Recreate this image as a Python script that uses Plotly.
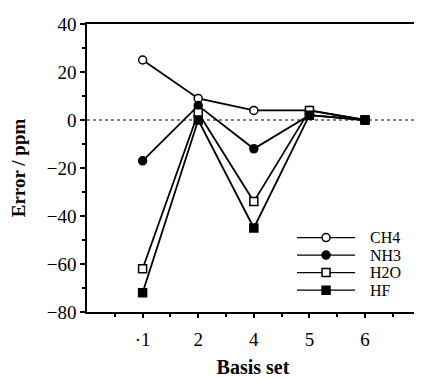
import plotly.graph_objects as go

basis_labels = ["·1", "2", "4", "5", "6"]
basis_pos = [1, 2, 3, 4, 5]
ch4 = [25, 9, 4, 4, 0]
nh3 = [-17, 6, -12, 2, 0]
h2o = [-62, 3, -34, 4, 0]
hf = [-72, 0, -45, 2, 0]
series_names = ["CH4", "NH3", "H2O", "HF"]

styles = [("circle", "white"), ("circle", "black"), ("square", "white"), ("square", "black")]
series_vals = [ch4, nh3, h2o, hf]

font_family = "Liberation Serif, Times New Roman, serif"
fig = go.Figure()

fig.add_shape(type="line", xref="paper", x0=0, x1=1, yref="y", y0=0, y1=0,
              line=dict(color="black", width=1, dash="dot"), layer="below")

for name, vals, (sym, fill) in zip(series_names, series_vals, styles):
    fig.add_trace(go.Scatter(
        x=basis_pos, y=vals, name=name, mode="lines+markers", showlegend=False,
        line=dict(color="black", width=1.8),
        marker=dict(symbol=sym, size=8, color=fill, line=dict(color="black", width=1.5)),
    ))

# custom legend on its own small axes
for i, (name, (sym, fill)) in enumerate(zip(series_names, styles)):
    row = 3 - i
    fig.add_trace(go.Scatter(
        x=[0, 1], y=[row, row], mode="lines", xaxis="x2", yaxis="y2", showlegend=False,
        line=dict(color="black", width=1.2), hoverinfo="skip",
    ))
    fig.add_trace(go.Scatter(
        x=[0.5], y=[row], mode="markers", xaxis="x2", yaxis="y2", showlegend=False,
        marker=dict(symbol=sym, size=8, color=fill, line=dict(color="black", width=1.5)),
        hoverinfo="skip",
    ))
    fig.add_annotation(x=1, y=row, xref="x2", yref="y2", text=name, showarrow=False,
                       xanchor="left", xshift=13, font=dict(size=16))

fig.update_layout(
    width=414, height=370,
    margin=dict(l=79, r=1, t=16, b=64),
    paper_bgcolor="white", plot_bgcolor="white",
    font=dict(family=font_family, size=19, color="black"),
    showlegend=False,
    xaxis=dict(
        range=[0, 5.97], tickmode="array", tickvals=basis_pos, ticktext=basis_labels,
        showgrid=False, zeroline=False, showline=True, linecolor="black", linewidth=1.5,
        mirror=True, ticks="outside", ticklen=4, tickwidth=1.5, tickcolor="black",
        minor=dict(tickvals=[0.5, 1.5, 2.5, 3.5, 4.5, 5.5], ticks="outside", ticklen=3,
                   tickcolor="black", showgrid=False),
        ticklabelstandoff=5,
        title=dict(text="<b>Basis set</b>", font=dict(size=20), standoff=13),
        tickfont=dict(size=19),
    ),
    yaxis=dict(
        range=[-80, 40], tickmode="array", tickvals=[-80, -60, -40, -20, 0, 20, 40],
        showgrid=False, zeroline=False, showline=True, linecolor="black", linewidth=1.5,
        mirror=True, ticks="outside", ticklen=5, tickwidth=1.5, tickcolor="black",
        minor=dict(tickvals=[-70, -50, -30, -10, 10, 30], ticks="outside", ticklen=3,
                   tickcolor="black", showgrid=False),
        title=dict(text="<b>Error / ppm</b>", font=dict(size=19), standoff=17),
        tickfont=dict(size=19),
    ),
    xaxis2=dict(domain=[0.632, 0.808], range=[0, 1], visible=False, anchor="y2"),
    yaxis2=dict(domain=[0.0455, 0.2890], range=[-0.5, 3.5], visible=False, anchor="x2"),
)

fig.write_html("out.html")
